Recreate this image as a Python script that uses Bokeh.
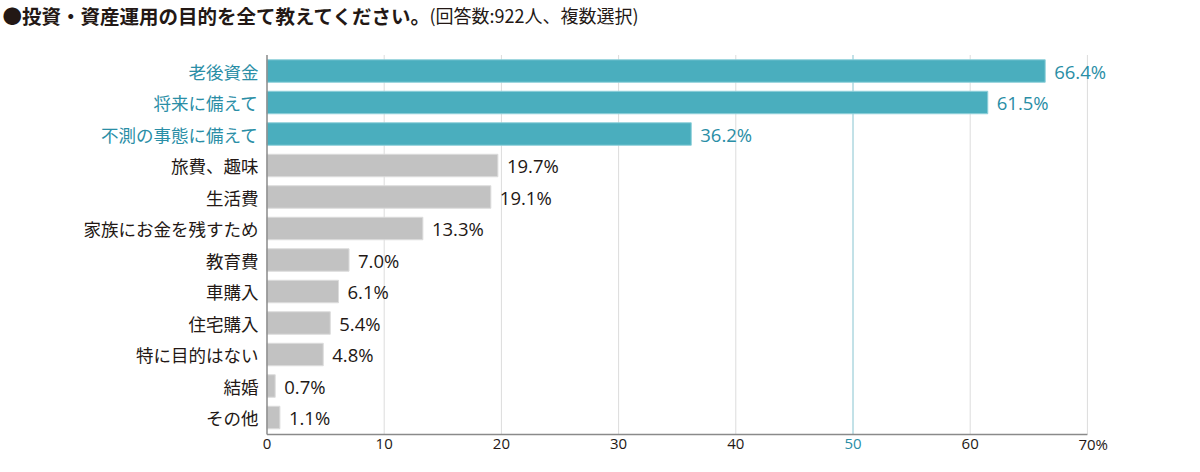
from bokeh.plotting import figure
from bokeh.models import Range1d, ColumnDataSource
from bokeh.core.properties import value
from bokeh.embed import file_html
from bokeh.resources import INLINE

# ---------------- data ----------------
title_main = "●投資・資産運用の目的を全て教えてください。"
title_sub = "(回答数:922人、複数選択)"
categories = ["老後資金", "将来に備えて", "不測の事態に備えて", "旅費、趣味", "生活費",
              "家族にお金を残すため", "教育費", "車購入", "住宅購入", "特に目的はない",
              "結婚", "その他"]
values = [66.4, 61.5, 36.2, 19.7, 19.1, 13.3, 7.0, 6.1, 5.4, 4.8, 0.7, 1.1]
highlighted = [True, True, True, False, False, False, False, False, False, False, False, False]
x_ticks = [0, 10, 20, 30, 40, 50, 60]
x_tick_labels = ["0", "10", "20", "30", "40", "50", "60"]
last_tick = 70
last_tick_label = "70%"
accent_tick = 50

# ---------------- style ----------------
TEAL_BAR = "#4aaebe"
TEAL_EDGE = "#8fd0da"
TEAL_TEXT = "#2a8ea6"
GREY_BAR = "#c2c2c2"
GREY_EDGE = "#dcdcdc"
DARK = "#231815"
GRID = "#dcdcdc"
GRID_ACCENT = "#86c4d0"
AXIS = "#8a8a8a"
JP = value("Noto Sans CJK JP")
NUM = value("Open Sans")

W, H = 1184, 456
X0_PX = 266.5          # pixel of value 0
PPU = 11.72            # pixels per percent
Y0_PX = 70.5           # pixel of first row centre
ROW = 31.5             # pixels per row


def rx(px):
    return (px - X0_PX) / PPU


def ry(px):
    return (px - Y0_PX) / ROW


p = figure(width=W, height=H,
           x_range=Range1d(rx(0), rx(W)), y_range=Range1d(ry(H), ry(0)),
           output_backend="svg", toolbar_location=None,
           x_axis_location=None, y_axis_location=None, min_border=0)
p.outline_line_color = None
p.grid.visible = False
p.background_fill_color = "white"

idx = list(range(len(categories)))
grid_top = ry(54.5)
axis_y = ry(434)

# gridlines
gx = x_ticks[1:] + [last_tick]
gcol = [GRID_ACCENT if t == accent_tick else GRID for t in gx]
p.segment(x0=gx, x1=gx, y0=[grid_top] * len(gx), y1=[axis_y] * len(gx),
          line_color=gcol, line_width=1)

# bars
src = ColumnDataSource(dict(
    y=idx, v=values, cat=categories,
    fill=[TEAL_BAR if h else GREY_BAR for h in highlighted],
    edge=[TEAL_EDGE if h else GREY_EDGE for h in highlighted],
    tcol=[TEAL_TEXT if h else DARK for h in highlighted],
    lab=[f"{v:.1f}%" for v in values],
))
p.hbar(y="y", left=0, right="v", height=22.5 / ROW, fill_color="fill",
       line_color="edge", line_width=1, source=src)

# axes lines
p.segment(x0=[0], x1=[0], y0=[grid_top], y1=[axis_y], line_color=AXIS, line_width=1.5)
p.segment(x0=[0], x1=[last_tick], y0=[axis_y], y1=[axis_y], line_color=AXIS, line_width=1.5)

# category labels
p.text(x=rx(258), y="y", text="cat", source=src, text_align="right",
       text_baseline="middle", text_color="tcol", text_font=JP, text_font_size="17.5px")

# value labels
p.text(x="v", y="y", text="lab", source=src, x_offset=9, text_align="left",
       text_baseline="middle", text_color="tcol", text_font=NUM, text_font_size="18.5px")

# tick labels
tick_y = ry(443.5)
p.text(x=x_ticks, y=[tick_y] * len(x_ticks), text=x_tick_labels,
       text_color=[TEAL_TEXT if t == accent_tick else DARK for t in x_ticks],
       text_align="center", text_baseline="middle", text_font=NUM, text_font_size="15px")
p.text(x=[last_tick], y=[tick_y], text=[last_tick_label], x_offset=-9,
       text_color=DARK, text_align="left", text_baseline="middle",
       text_font=NUM, text_font_size="15px")

# title
p.text(x=[rx(2)], y=[ry(14.5)], text=[title_main], text_align="left", text_baseline="middle",
       text_color=DARK, text_font=JP, text_font_style="bold", text_font_size="19.5px")
p.text(x=[rx(429)], y=[ry(14.5)], text=[title_sub], text_align="left", text_baseline="middle",
       text_color=DARK, text_font=JP, text_font_size="18px")

open("out.html", "w").write(file_html(p, INLINE))
